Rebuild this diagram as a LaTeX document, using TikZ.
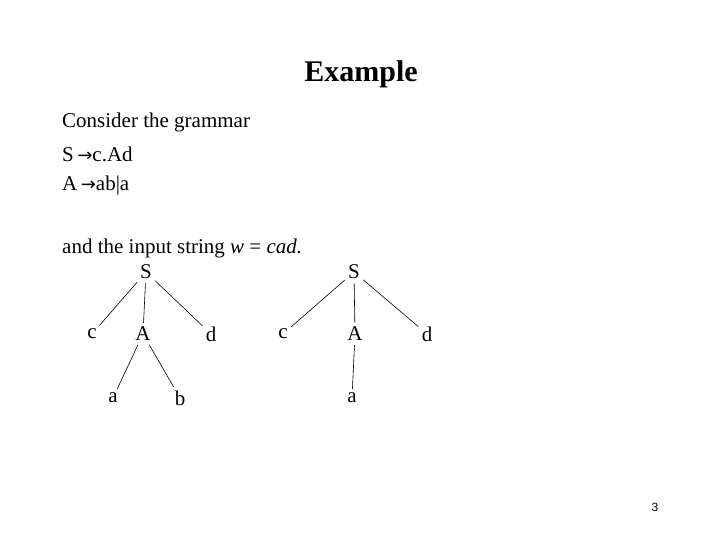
\documentclass[tikz,border=0pt]{standalone}
\usepackage{fontspec}
\setmainfont{Liberation Serif}
\newfontfamily\numfont{Liberation Sans}
\begin{document}
\begin{tikzpicture}[x=1pt,y=-1pt,
  txt/.style={anchor=west,inner sep=0,font=\fontsize{21}{24}\selectfont},
  tn/.style={inner sep=1pt,font=\fontsize{21}{24}\selectfont},
  edge/.style={draw,line width=0.6pt,shorten <=3pt,shorten >=3pt}]
\useasboundingbox (0,0) rectangle (720,540);
\node[inner sep=0,font=\fontsize{30}{34}\bfseries] (title) at (361,74) {Example};
\node[txt] (l1) at (62,122) {Consider the grammar};
\node[txt] (l2) at (62,154) {S\,{\fontspec{DejaVu Sans}\fontsize{18}{20}\selectfont\symbol{"2192}}c.Ad};
\node[txt] (l3) at (62,185) {A\,{\fontspec{DejaVu Sans}\fontsize{18}{20}\selectfont\symbol{"2192}}ab|a};
\node[txt] (l4) at (62,248) {and the input string \textit{w} = \textit{cad.}};
% tree 1
\node[tn] (s1) at (146,272) {S};
\node[tn] (c1) at (92,334) {c};
\node[tn] (a1) at (143,334) {A};
\node[tn] (d1) at (211,334) {d};
\node[tn] (x1) at (113,398) {a};
\node[tn] (b1) at (180,398) {b};
\draw[edge] (s1) -- (c1);
\draw[edge] (s1) -- (a1);
\draw[edge] (s1) -- (d1);
\draw[edge] (a1) -- (x1);
\draw[edge] (a1) -- (b1);
% tree 2
\node[tn] (s2) at (354,272) {S};
\node[tn] (c2) at (283,334) {c};
\node[tn] (a2) at (355,334) {A};
\node[tn] (d2) at (427,334) {d};
\node[tn] (x2) at (352,398) {a};
\draw[edge] (s2) -- (c2);
\draw[edge] (s2) -- (a2);
\draw[edge] (s2) -- (d2);
\draw[edge] (a2) -- (x2);
\node[inner sep=0,font=\numfont\fontsize{12}{14}\selectfont] (pg) at (655,507) {3};
\end{tikzpicture}
\end{document}
